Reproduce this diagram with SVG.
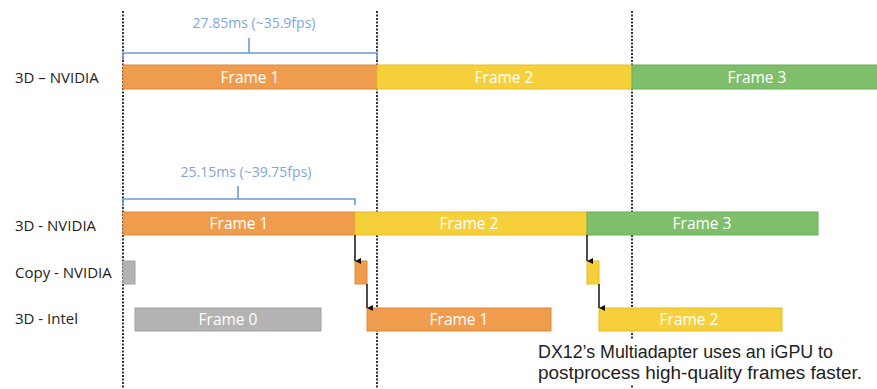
<svg xmlns="http://www.w3.org/2000/svg" width="877" height="389" viewBox="0 0 877 389">
<defs>
<marker id="ah" viewBox="0 0 8 8" refX="4" refY="8" markerWidth="6" markerHeight="6" orient="auto-start-reverse" markerUnits="userSpaceOnUse">
<path d="M0,0 L8,0 L4,8 Z" fill="#111"/>
</marker>
</defs>
<style>
.lbl{font-family:"Open Sans","Liberation Sans",sans-serif;font-size:15px;fill:#222}
.ft{font-family:"Open Sans","Liberation Sans",sans-serif;font-size:15.5px;fill:#fff;text-anchor:middle}
.ms{font-family:"Open Sans","Liberation Sans",sans-serif;font-size:14px;fill:#7fa6dc;text-anchor:middle}
.or{fill:#ef9c4e;stroke:#e08a3a;stroke-width:1}
.ye{fill:#f6d03a;stroke:#e9bd25;stroke-width:1}
.gr{fill:#7fbf6c;stroke:#6aaf56;stroke-width:1}
.gy{fill:#b3b3b3;stroke:#a3a3a3;stroke-width:1}
.dot{stroke:#333;stroke-width:2;stroke-dasharray:2 1.5;fill:none}
.br{stroke:#6a9bd8;stroke-width:1.6;fill:none}
.ar{stroke:#111;stroke-width:1.5;fill:none}
.cap{font-family:"Liberation Sans",sans-serif;font-size:18.8px;fill:#222}
</style>
<rect width="877" height="389" fill="#fff"/>
<g id="guides">
<line class="dot" x1="123" y1="11" x2="123" y2="389"/>
<line class="dot" x1="377" y1="11" x2="377" y2="389"/>
<line class="dot" x1="632" y1="11" x2="632" y2="389"/>
</g>
<g id="row-labels">
<text class="lbl" x="15" y="83">3D – NVIDIA</text>
<text class="lbl" x="15" y="231">3D - NVIDIA</text>
<text class="lbl" x="15" y="278">Copy - NVIDIA</text>
<text class="lbl" x="15" y="324">3D - Intel</text>
</g>
<g id="top-measure">
<path class="br" d="M123,60 V53 H377 V60 M249,53 V38"/>
<text class="ms" x="254" y="28">27.85ms (~35.9fps)</text>
</g>
<g id="top-frame1"><rect class="or" x="123" y="65" width="254" height="24"/><text class="ft" x="250" y="83">Frame 1</text></g>
<g id="top-frame2"><rect class="ye" x="377" y="65" width="255" height="24"/><text class="ft" x="504" y="83">Frame 2</text></g>
<g id="top-frame3"><rect class="gr" x="632" y="65" width="250" height="24"/><text class="ft" x="757" y="83">Frame 3</text></g>
<g id="bot-measure">
<path class="br" d="M123,205 V199 H355 V205 M238,199 V186"/>
<text class="ms" x="246" y="177">25.15ms (~39.75fps)</text>
</g>
<g id="nv-frame1"><rect class="or" x="123" y="212" width="232" height="23"/><text class="ft" x="239" y="229">Frame 1</text></g>
<g id="nv-frame2"><rect class="ye" x="355" y="212" width="232" height="23"/><text class="ft" x="469" y="229">Frame 2</text></g>
<g id="nv-frame3"><rect class="gr" x="587" y="212" width="231" height="23"/><text class="ft" x="702" y="229">Frame 3</text></g>
<g id="copy-0"><rect class="gy" x="123" y="261" width="12" height="23"/></g>
<g id="copy-1"><rect class="or" x="355" y="261" width="12" height="23"/></g>
<g id="copy-2"><rect class="ye" x="587" y="261" width="12" height="23"/></g>
<g id="intel-frame0"><rect class="gy" x="135" y="308" width="186" height="23"/><text class="ft" x="228" y="325">Frame 0</text></g>
<g id="intel-frame1"><rect class="or" x="367" y="308" width="184" height="23"/><text class="ft" x="459" y="325">Frame 1</text></g>
<g id="intel-frame2"><rect class="ye" x="599" y="308" width="183" height="23"/><text class="ft" x="689" y="325">Frame 2</text></g>
<g id="connectors">
<line class="ar" x1="355" y1="235" x2="355" y2="261" marker-end="url(#ah)"/>
<line class="ar" x1="367" y1="284" x2="367" y2="308" marker-end="url(#ah)"/>
<line class="ar" x1="587" y1="235" x2="587" y2="261" marker-end="url(#ah)"/>
<line class="ar" x1="599" y1="284" x2="599" y2="308" marker-end="url(#ah)"/>
</g>
<g id="caption">
<rect x="534" y="340" width="343" height="45" fill="#fff"/>
<text class="cap" x="538" y="358" textLength="295" lengthAdjust="spacingAndGlyphs">DX12’s Multiadapter uses an iGPU to</text>
<text class="cap" x="538" y="379" textLength="324" lengthAdjust="spacingAndGlyphs">postprocess high-quality frames faster.</text>
</g>
</svg>
